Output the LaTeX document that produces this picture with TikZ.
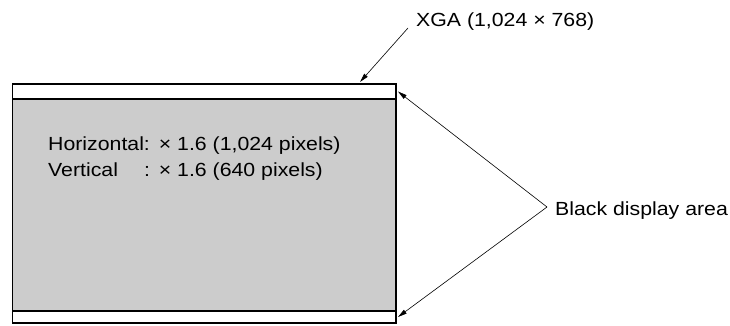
\documentclass[tikz,border=0pt]{standalone}
\usepackage{fontspec}
\setmainfont{Liberation Sans}
\usepackage{tikz}
\usetikzlibrary{arrows.meta,positioning,calc}
\definecolor{screengray}{HTML}{CCCCCC}
\newcommand{\wide}[1]{\scalebox{1.12}[1]{#1}}

\begin{document}
\begin{tikzpicture}[
  x=1pt, y=-1pt,
  band/.style={draw, line width=1.8pt, fill=white, minimum width=383.5pt, inner sep=0pt, outer sep=0pt},
  screen/.style={draw, line width=1.8pt, fill=screengray, minimum width=383.5pt, minimum height=212pt, inner sep=0pt, outer sep=0pt},
  lbl/.style={font=\fontsize{19}{25.5}\selectfont, inner sep=0pt},
  arr/.style={-{Triangle[length=9pt,width=4.5pt]}, line width=0.6pt},
  >=Stealth
]
\useasboundingbox (0,0) rectangle (730,325);

% display
\node[screen, anchor=north west] (scr) at (12.5,99) {};
\node[band, minimum height=15pt, anchor=south] (topband) at (scr.north) {};
\node[band, minimum height=12pt, anchor=north] (botband) at (scr.south) {};

% labels
\node[lbl, anchor=base west] (xga) at (416,26) {\wide{XGA (1,024 × 768)}};
\node[lbl, anchor=base west] (black) at (555,215) {\wide{Black display area}};
\node[lbl, anchor=base west] (scale) at (48,150.5) {%
  \begin{tabular}[t]{@{}l@{\hspace{9pt}}l@{}}
  \wide{Horizontal:} & \wide{× 1.6 (1,024 pixels)}\\
  \wide{Vertical}\hfill\wide{:} & \wide{× 1.6 (640 pixels)}
  \end{tabular}};

% arrows
\coordinate (vertex) at ([shift={(-8pt,8pt)}]black.base west);
\draw[arr] ([shift={(-8pt,-2pt)}]xga.base west) -- ([shift={(-36pt,2pt)}]topband.north east);
\draw[arr] (vertex) -- ([xshift=2pt]topband.east);
\draw[arr] (vertex) -- ([xshift=2pt]botband.east);
\end{tikzpicture}
\end{document}
